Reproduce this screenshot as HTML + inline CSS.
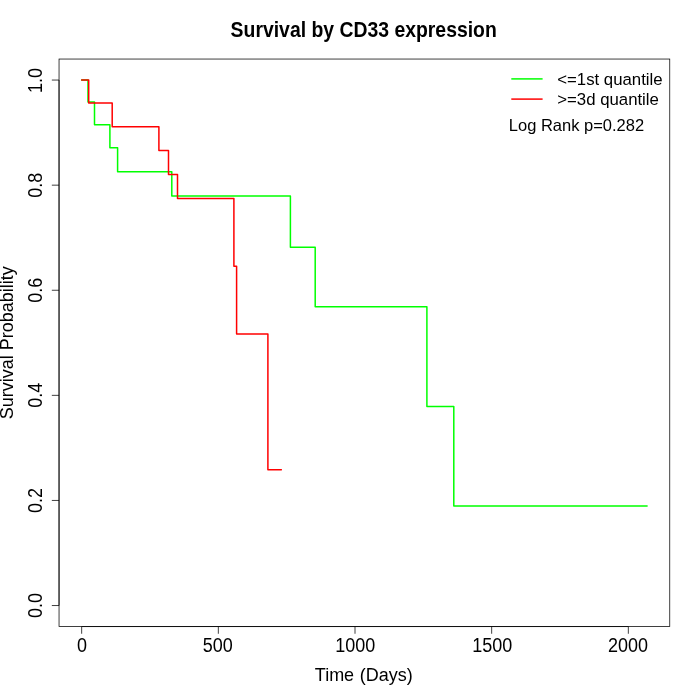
<!DOCTYPE html>
<html><head><meta charset="utf-8"><title>Survival by CD33 expression</title>
<style>
html,body{margin:0;padding:0;background:#fff;}
svg{display:block;}
text{font-family:"Liberation Sans",sans-serif;fill:#000;}
.ax{stroke:#000;stroke-width:0.75;fill:none;stroke-linecap:butt;}
</style></head><body>
<svg width="700" height="700" viewBox="0 0 700 700">
<rect x="0" y="0" width="700" height="700" fill="#ffffff"/>
<polyline points="81.66,80.06 88.00,80.06 88.00,101.96 94.50,101.96 94.50,124.80 109.90,124.80 109.90,147.70 117.60,147.70 117.60,171.80 171.80,171.80 171.80,195.90 290.40,195.90 290.40,247.20 315.20,247.20 315.20,306.80 426.90,306.80 426.90,406.40 453.80,406.40 453.80,505.90 647.10,505.90" fill="none" stroke="#00ff00" stroke-width="1.5" stroke-linejoin="round" stroke-linecap="round"/>
<polyline points="81.66,80.06 88.70,80.06 88.70,102.90 112.20,102.90 112.20,126.70 158.90,126.70 158.90,150.60 168.50,150.60 168.50,174.40 177.50,174.40 177.50,198.60 233.90,198.60 233.90,266.30 236.60,266.30 236.60,333.90 267.90,333.90 267.90,469.80 281.35,469.80" fill="none" stroke="#ff0000" stroke-width="1.5" stroke-linejoin="round" stroke-linecap="round"/>
<path class="ax" d="M81.66 626.56H628.34"/>
<path class="ax" d="M81.66 626.56v7.2"/>
<text transform="translate(82.00 652.00) scale(1 1.130)" font-size="18" text-anchor="middle">0</text>
<path class="ax" d="M218.33 626.56v7.2"/>
<text transform="translate(217.75 652.00) scale(1 1.130)" font-size="18" text-anchor="middle">500</text>
<path class="ax" d="M355.00 626.56v7.2"/>
<text transform="translate(355.25 652.00) scale(1 1.130)" font-size="18" text-anchor="middle">1000</text>
<path class="ax" d="M491.67 626.56v7.2"/>
<text transform="translate(492.20 652.00) scale(1 1.130)" font-size="18" text-anchor="middle">1500</text>
<path class="ax" d="M628.34 626.56v7.2"/>
<text transform="translate(627.95 652.00) scale(1 1.130)" font-size="18" text-anchor="middle">2000</text>
<path class="ax" d="M59.04 605.54V80.06"/>
<path class="ax" d="M59.04 605.54h-7.2"/>
<text transform="translate(41.90 605.54) rotate(-90) scale(1 1.130)" font-size="18" text-anchor="middle">0.0</text>
<path class="ax" d="M59.04 500.44h-7.2"/>
<text transform="translate(41.90 500.44) rotate(-90) scale(1 1.130)" font-size="18" text-anchor="middle">0.2</text>
<path class="ax" d="M59.04 395.35h-7.2"/>
<text transform="translate(41.90 395.35) rotate(-90) scale(1 1.130)" font-size="18" text-anchor="middle">0.4</text>
<path class="ax" d="M59.04 290.25h-7.2"/>
<text transform="translate(41.90 290.25) rotate(-90) scale(1 1.130)" font-size="18" text-anchor="middle">0.6</text>
<path class="ax" d="M59.04 185.16h-7.2"/>
<text transform="translate(41.90 185.16) rotate(-90) scale(1 1.130)" font-size="18" text-anchor="middle">0.8</text>
<path class="ax" d="M59.04 80.06h-7.2"/>
<text transform="translate(41.90 80.46) rotate(-90) scale(1 1.130)" font-size="18" text-anchor="middle">1.0</text>
<rect class="ax" x="59.04" y="59.04" width="610.72" height="567.52"/>
<text transform="translate(363.70 36.80) scale(1 1.110)" font-size="19.4" text-anchor="middle" font-weight="bold">Survival by CD33 expression</text>
<text word-spacing="0.7" transform="translate(363.80 680.90) scale(1 1.070)" font-size="18" text-anchor="middle">Time (Days)</text>
<text transform="translate(12.50 342.80) rotate(-90) scale(1 1.070)" font-size="18" text-anchor="middle">Survival Probability</text>
<path d="M511.3 78.9H542.6" stroke="#00ff00" stroke-width="1.5" fill="none"/>
<path d="M511.3 99.1H542.6" stroke="#ff0000" stroke-width="1.5" fill="none"/>
<text transform="translate(557.20 84.80) scale(1 1.000)" font-size="16.8" text-anchor="start">&lt;=1st quantile</text>
<text transform="translate(557.20 104.90) scale(1 1.000)" font-size="16.8" text-anchor="start">&gt;=3d quantile</text>
<text transform="translate(508.80 130.60) scale(1 1.000)" font-size="16.5" text-anchor="start">Log Rank p=0.282</text>
</svg>
</body></html>
